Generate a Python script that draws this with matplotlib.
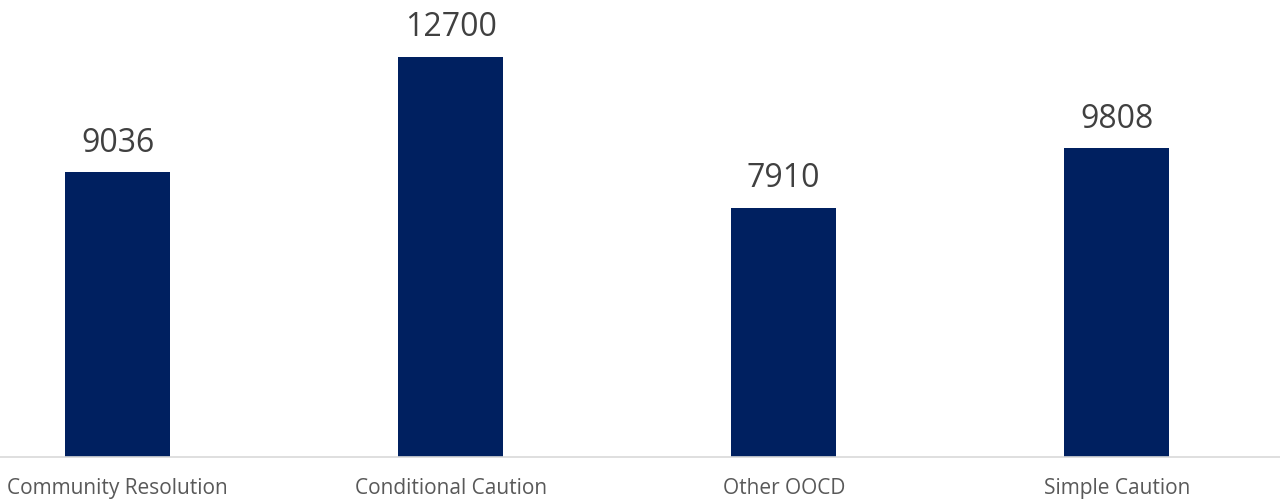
import matplotlib.pyplot as plt

categories = ['Community Resolution', 'Conditional Caution', 'Other OOCD', 'Simple Caution']
values = [9036, 12700, 7910, 9808]

fig = plt.figure(figsize=(12.8, 5.03), dpi=100)
ax = fig.add_axes([0, (503 - 457) / 503, 1, 457 / 503])

x = range(len(categories))
bars = ax.bar(x, values, width=0.316, color='#002060', zorder=2)

ax.set_xlim(-0.353, 3.49)
ax.set_ylim(0, 12700 * 457 / 400)

for b, v in zip(bars, values):
    ax.annotate(str(v), (b.get_x() + b.get_width() / 2, v),
                xytext=(0, 9), textcoords='offset points',
                ha='center', va='bottom', fontsize=23, color='#404040',
                family='Open Sans')

for s in ['top', 'right', 'left']:
    ax.spines[s].set_visible(False)
ax.spines['bottom'].set_color('#d9d9d9')
ax.spines['bottom'].set_linewidth(1.2)
ax.set_yticks([])
ax.set_xticks(list(x))
ax.set_xticklabels(categories, fontsize=15, color='#595959', family='Open Sans')
ax.tick_params(axis='x', length=0, pad=15)

fig.savefig('out.png', dpi=100, facecolor='white')
